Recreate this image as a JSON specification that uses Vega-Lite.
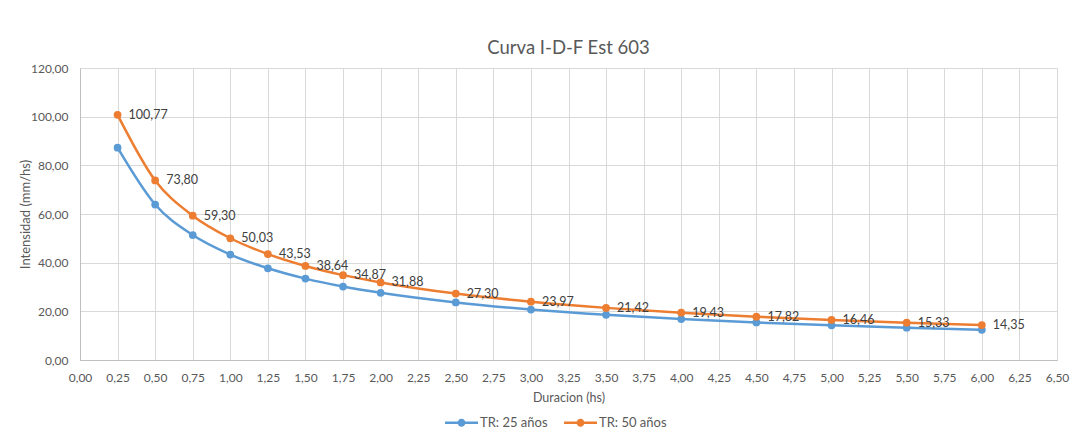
{
  "$schema": "https://vega.github.io/schema/vega-lite/v6.json",
  "autosize": "none",
  "width": 977,
  "height": 292,
  "padding": {"left": 80, "top": 68, "right": 29, "bottom": 81},
  "background": "white",
  "title": {"text": "Curva I-D-F Est 603", "fontSize": 18.5, "font": "Lato", "fontWeight": "normal", "color": "#595959", "offset": 5, "anchor": "middle"},
  "data": {"values": [
    {"d": 0.25, "serie": "TR: 25 años", "v": 87.25, "label": ""},
    {"d": 0.5, "serie": "TR: 25 años", "v": 63.9, "label": ""},
    {"d": 0.75, "serie": "TR: 25 años", "v": 51.34, "label": ""},
    {"d": 1.0, "serie": "TR: 25 años", "v": 43.32, "label": ""},
    {"d": 1.25, "serie": "TR: 25 años", "v": 37.69, "label": ""},
    {"d": 1.5, "serie": "TR: 25 años", "v": 33.45, "label": ""},
    {"d": 1.75, "serie": "TR: 25 años", "v": 30.19, "label": ""},
    {"d": 2.0, "serie": "TR: 25 años", "v": 27.6, "label": ""},
    {"d": 2.5, "serie": "TR: 25 años", "v": 23.64, "label": ""},
    {"d": 3.0, "serie": "TR: 25 años", "v": 20.75, "label": ""},
    {"d": 3.5, "serie": "TR: 25 años", "v": 18.55, "label": ""},
    {"d": 4.0, "serie": "TR: 25 años", "v": 16.82, "label": ""},
    {"d": 4.5, "serie": "TR: 25 años", "v": 15.43, "label": ""},
    {"d": 5.0, "serie": "TR: 25 años", "v": 14.25, "label": ""},
    {"d": 5.5, "serie": "TR: 25 años", "v": 13.27, "label": ""},
    {"d": 6.0, "serie": "TR: 25 años", "v": 12.42, "label": ""},
    {"d": 0.25, "serie": "TR: 50 años", "v": 100.77, "label": "100,77"},
    {"d": 0.5, "serie": "TR: 50 años", "v": 73.80, "label": "73,80"},
    {"d": 0.75, "serie": "TR: 50 años", "v": 59.30, "label": "59,30"},
    {"d": 1.0, "serie": "TR: 50 años", "v": 50.03, "label": "50,03"},
    {"d": 1.25, "serie": "TR: 50 años", "v": 43.53, "label": "43,53"},
    {"d": 1.5, "serie": "TR: 50 años", "v": 38.64, "label": "38,64"},
    {"d": 1.75, "serie": "TR: 50 años", "v": 34.87, "label": "34,87"},
    {"d": 2.0, "serie": "TR: 50 años", "v": 31.88, "label": "31,88"},
    {"d": 2.5, "serie": "TR: 50 años", "v": 27.30, "label": "27,30"},
    {"d": 3.0, "serie": "TR: 50 años", "v": 23.97, "label": "23,97"},
    {"d": 3.5, "serie": "TR: 50 años", "v": 21.42, "label": "21,42"},
    {"d": 4.0, "serie": "TR: 50 años", "v": 19.43, "label": "19,43"},
    {"d": 4.5, "serie": "TR: 50 años", "v": 17.82, "label": "17,82"},
    {"d": 5.0, "serie": "TR: 50 años", "v": 16.46, "label": "16,46"},
    {"d": 5.5, "serie": "TR: 50 años", "v": 15.33, "label": "15,33"},
    {"d": 6.0, "serie": "TR: 50 años", "v": 14.35, "label": "14,35"}
  ]},
  "encoding": {
    "x": {"field": "d", "type": "quantitative", "scale": {"domain": [0, 6.5], "nice": false, "zero": true},
      "axis": {"title": "Duracion (hs)", "values": [0,0.25,0.5,0.75,1,1.25,1.5,1.75,2,2.25,2.5,2.75,3,3.25,3.5,3.75,4,4.25,4.5,4.75,5,5.25,5.5,5.75,6,6.25,6.5],
        "labelExpr": "replace(format(datum.value, '.2f'), '.', ',')", "labelPadding": 12, "titlePadding": 8, "labelFlush": false, "labelOverlap": false}},
    "y": {"field": "v", "type": "quantitative", "scale": {"domain": [0, 120], "nice": false},
      "axis": {"title": "Intensidad (mm/hs)", "values": [0,20,40,60,80,100,120], "labelExpr": "replace(format(datum.value, '.2f'), '.', ',')", "labelPadding": 12, "titlePadding": -2, "titleFontSize": 13}},
    "color": {"field": "serie", "type": "nominal", "scale": {"domain": ["TR: 25 años", "TR: 50 años"], "range": ["#5B9BD5", "#ED7D31"]},
      "legend": {"title": null, "orient": "none", "legendX": 365, "legendY": 338, "direction": "horizontal",
        "symbolType": "M-1,-0.07 L1,-0.07 L1,0.07 L-1,0.07 Z M-0.24,0 A0.24,0.24 0 1,1 0.24,0 A0.24,0.24 0 1,1 -0.24,0 Z",
        "symbolSize": 1089, "symbolStrokeWidth": 0, "labelFontSize": 13, "labelColor": "#595959", "labelFont": "Lato", "labelOffset": 2, "columnPadding": 16}}
  },
  "layer": [
    {"mark": {"type": "line", "strokeWidth": 2.5, "interpolate": "monotone"}},
    {"mark": {"type": "point", "filled": true, "opacity": 1, "size": 60, "shape": "circle"}},
    {"transform": [{"filter": "datum.label != ''"}],
     "mark": {"type": "text", "align": "left", "baseline": "middle", "dx": 11, "fontSize": 12.5, "font": "Lato", "color": "#404040"},
     "encoding": {"text": {"field": "label", "type": "nominal"}, "color": {"value": "#404040"}}}
  ],
  "config": {
    "view": {"stroke": null},
    "axis": {"gridColor": "#D9D9D9", "gridWidth": 1, "domainColor": "#BFBFBF", "ticks": false, "labelFont": "Lato", "labelFontSize": 12, "labelColor": "#595959",
      "titleFont": "Lato", "titleFontSize": 12.5, "titleFontWeight": "normal", "titleColor": "#595959"}
  }
}
